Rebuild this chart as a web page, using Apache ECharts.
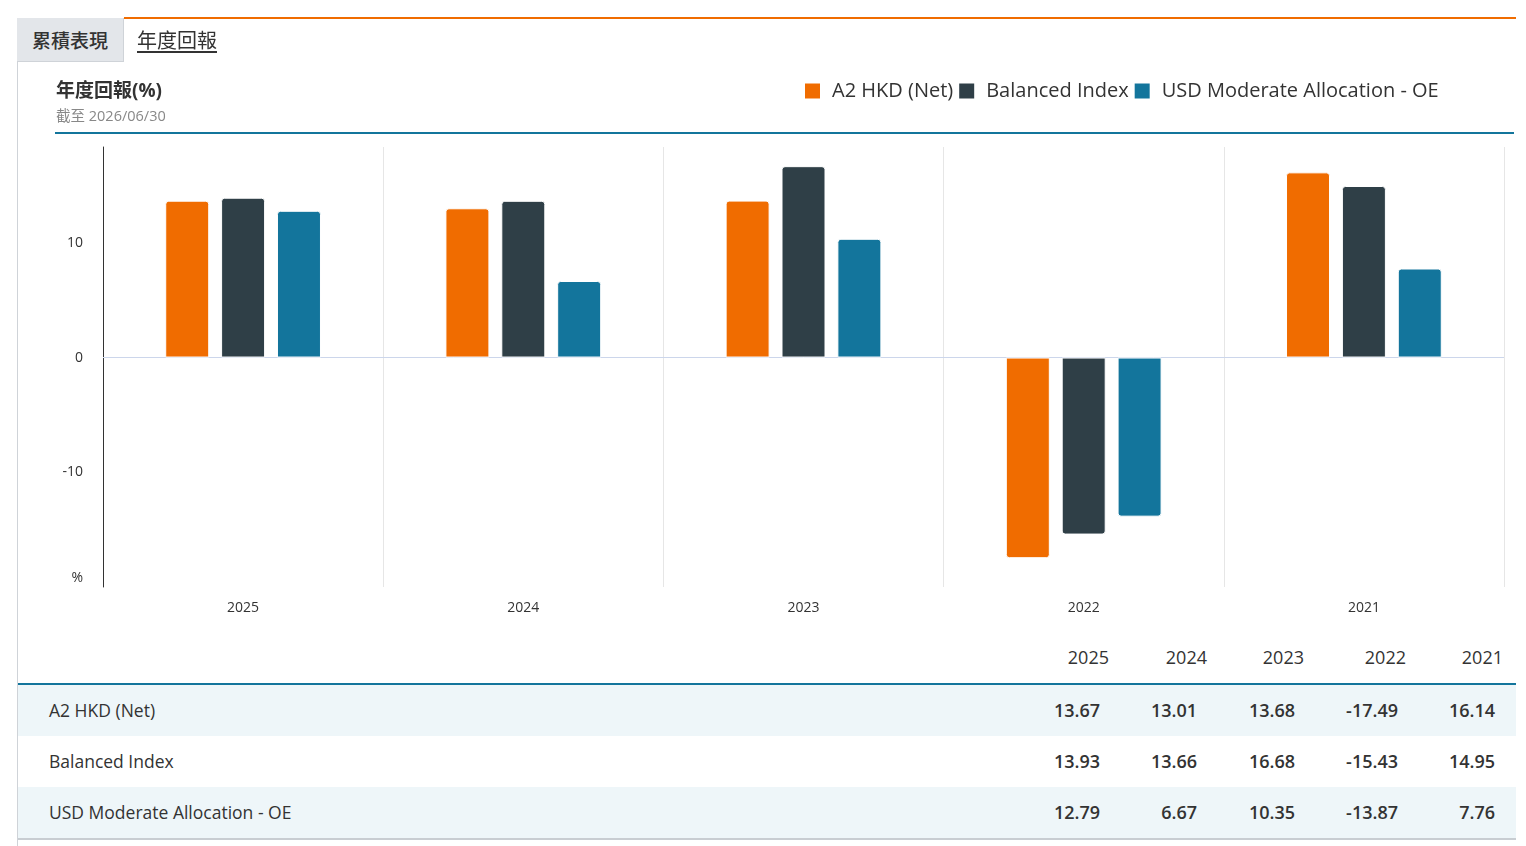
<!DOCTYPE html>
<html>
<head>
<meta charset="utf-8">
<script src="https://cdn.jsdelivr.net/npm/echarts@6/dist/echarts.min.js"></script>
<style>
  html, body { margin: 0; padding: 0; background: #fff; }
  body { width: 1526px; height: 846px; position: relative; overflow: hidden;
         font-family: 'Open Sans', 'Noto Sans CJK TC', sans-serif; color: #333; }
  #chart { position: absolute; left: 0; top: 0; width: 1526px; height: 630px; }
  .abs { position: absolute; }
  #leftBorder { left: 17px; top: 18px; width: 1px; height: 828px; background: #cfd3d8; }
  #tab1 { left: 17px; top: 18px; width: 106px; height: 43px; background: #e3e6ea;
          border-right: 1px solid #cfd3d8; border-bottom: 1px solid #cfd3d8;
          font-size: 19px; line-height: 43px; text-align: center; font-weight: 500;
          font-family: 'Noto Sans CJK TC', sans-serif; }
  #orangeLine { left: 124px; top: 17px; width: 1392px; height: 2px; background: #f06c00; }
  #tab2 { left: 137px; top: 22px; font-size: 20px; line-height: 36px; text-decoration: underline;
          text-underline-offset: 3px; font-family: 'Noto Sans CJK TC', sans-serif; }
  #headLine { left: 55px; top: 132px; width: 1459px; height: 2px; background: #13759c; }
  #tblLine { left: 18px; top: 683px; width: 1498px; height: 2px; background: #13759c; }
  .row { position: absolute; left: 18px; width: 1498px; height: 51px; }
  .cell { position: absolute; font-size: 18px; white-space: nowrap; }
</style>
</head>
<body>
<div id="chart"></div>
<div class="abs" id="leftBorder"></div>
<div class="abs" id="tab1">累積表現</div>
<div class="abs" id="orangeLine"></div>
<div class="abs" id="tab2">年度回報</div>
<div class="abs" id="headLine"></div>
<div id="table"></div>
<script>
// ---- data ----
const years = ['2025', '2024', '2023', '2022', '2021'];
const seriesNames = ['A2 HKD (Net)', 'Balanced Index', 'USD Moderate Allocation - OE'];
const fundValues = [13.67, 13.01, 13.68, -17.49, 16.14];
const indexValues = [13.93, 13.66, 16.68, -15.43, 14.95];
const categoryValues = [12.79, 6.67, 10.35, -13.87, 7.76];
const seriesColors = ['#f06c00', '#2f3f47', '#13759c'];
const yMin = -20, yMax = 18.35, yInterval = 10;

const allValues = [fundValues, indexValues, categoryValues];
const FONT = "'Open Sans', 'Noto Sans CJK TC', sans-serif";

function barData(vals) {
  return vals.map(v => ({
    value: v,
    itemStyle: { borderRadius: v >= 0 ? [3, 3, 0, 0] : [0, 0, 3, 3] }
  }));
}

const chart = echarts.init(document.getElementById('chart'), null, { renderer: 'canvas' });
chart.setOption({
  animation: false,
  backgroundColor: 'transparent',
  textStyle: { fontFamily: FONT },
  title: [
    { text: '年度回報(%)', left: 51, top: 77,
      textStyle: { fontSize: 19, fontWeight: 'bold', color: '#333', fontFamily: FONT } },
    { text: '截至 2026/06/30', left: 51, top: 105,
      textStyle: { fontSize: 14.5, fontWeight: 'normal', color: '#888', fontFamily: FONT } }
  ],
  legend: {
    left: 798, top: 76,
    icon: 'rect', itemWidth: 17, itemHeight: 17, itemGap: 4,
    textStyle: { fontSize: 20, color: '#333', fontFamily: FONT, padding: [0, 0, 0, 6] },
    data: seriesNames
  },
  grid: { left: 103, right: 22, top: 147, height: 440, containLabel: false },
  xAxis: {
    type: 'category',
    data: years,
    position: 'bottom',
    axisLine: { show: false, onZero: false },
    axisTick: { show: false },
    axisLabel: { fontSize: 14, color: '#333', margin: 14 },
    splitLine: { show: true, lineStyle: { color: '#e6e6e6', width: 1 } }
  },
  yAxis: {
    type: 'value',
    min: yMin, max: yMax, interval: yInterval,
    axisLine: { show: true, lineStyle: { color: '#333', width: 1 } },
    axisTick: { show: false },
    splitLine: { show: false },
    axisLabel: {
      fontSize: 14, color: '#333', margin: 20,
      formatter: function (v) {
        if (Math.abs(v - yMin) < 1e-6) return '{p|%}';
        if (v > 15) return '';
        return String(Math.round(v));
      },
      rich: { p: { fontSize: 14, color: '#333', padding: [0, 0, 18, 0] } }
    }
  },
  series: seriesNames.map((name, i) => ({
    name: name,
    type: 'bar',
    data: barData(allValues[i]),
    barWidth: 44,
    barGap: '27%',
    itemStyle: { color: seriesColors[i], borderColor: '#fff', borderWidth: 1 },
    markLine: i === 0 ? {
      silent: true, symbol: 'none', label: { show: false },
      lineStyle: { color: '#ccd6eb', type: 'solid', width: 1 },
      data: [{ yAxis: 0 }], z: 1
    } : undefined
  }))
});

// ---- table built from the same arrays ----
const table = document.getElementById('table');
const headerRight = [1109, 1207, 1304, 1406, 1503];
const valueRight = [1100, 1197, 1295, 1398, 1495];
let html = '';
years.forEach((y, j) => {
  html += '<div class="cell" style="top:645px;right:' + (1526 - headerRight[j]) + 'px;line-height:24px;">' + y + '</div>';
});
html += '<div class="abs" id="tblLine"></div>';
const rowTops = [685, 736, 787];
seriesNames.forEach((name, i) => {
  const bg = i % 2 === 0 ? '#eef6f9' : '#ffffff';
  html += '<div class="row" style="top:' + rowTops[i] + 'px;background:' + bg + ';"></div>';
  const cy = rowTops[i] + 25;
  html += '<div class="cell" style="left:49px;top:' + (cy - 12) + 'px;line-height:24px;font-size:17.5px;">' + name + '</div>';
  allValues[i].forEach((v, j) => {
    html += '<div class="cell" style="right:' + (1526 - valueRight[j]) + 'px;top:' + (cy - 12) +
      'px;line-height:24px;font-weight:600;">' + v.toFixed(2) + '</div>';
  });
});
html += '<div class="abs" style="left:18px;top:838px;width:1498px;height:2px;background:#c8cdd2;"></div>';
table.innerHTML = html;
</script>
</body>
</html>
